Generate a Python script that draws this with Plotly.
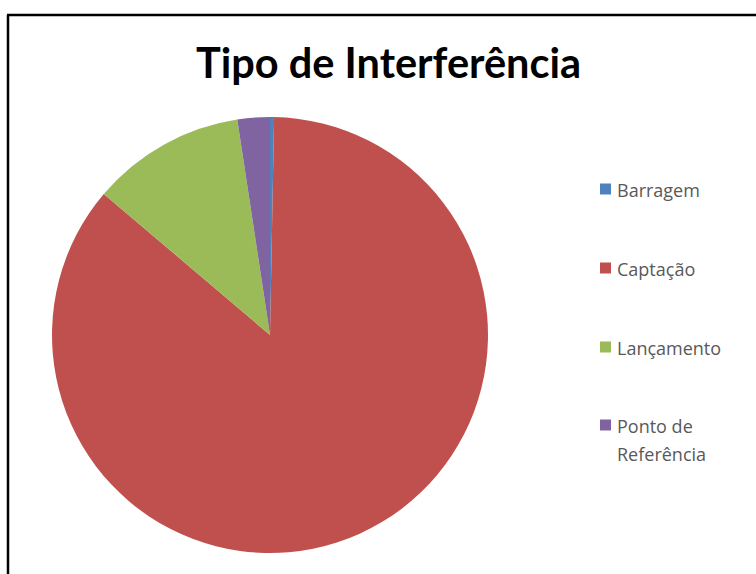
import plotly.graph_objects as go

W, H = 756, 574

title_text = "Tipo de Interferência"
labels = ["Barragem", "Captação", "Lançamento", "Ponto de Referência"]
legend_lines = [["Barragem"], ["Captação"], ["Lançamento"], ["Ponto de", "Referência"]]
values = [0.3, 85.9, 11.4, 2.4]
colors = ["#4F81BD", "#C0504D", "#9BBB59", "#8064A2"]

TITLE_FONT = "Lato"
LEG_FONT = "Open Sans"

def px_x(x):
    return x / W

def px_y(y):
    return 1 - y / H

fig = go.Figure(
    go.Pie(
        labels=labels,
        values=values,
        sort=False,
        direction="clockwise",
        rotation=0,
        textinfo="none",
        hoverinfo="label+percent",
        marker=dict(colors=colors, line=dict(width=0)),
        domain=dict(x=[px_x(52), px_x(488)], y=[px_y(553), px_y(117)]),
        showlegend=False,
    )
)

# legend drawn from the category / colour lists
legend_y = [189, 268, 347, 425]
line_gap = 28
shapes = []
annotations = []
for lines, col, yc in zip(legend_lines, colors, legend_y):
    shapes.append(dict(type="rect", xref="paper", yref="paper",
                       x0=px_x(600), x1=px_x(611), y0=px_y(yc + 5.5), y1=px_y(yc - 5.5),
                       fillcolor=col, line=dict(width=0)))
    for i, ln in enumerate(lines):
        annotations.append(dict(text=ln, xref="paper", yref="paper",
                                x=px_x(615), y=px_y(yc + 1 + i * line_gap),
                                xanchor="left", yanchor="middle",
                                showarrow=False, align="left",
                                font=dict(family=LEG_FONT, size=18, color="#595959")))

annotations.append(dict(text="<b>" + title_text + "</b>", xref="paper", yref="paper",
                        x=px_x(388), y=px_y(62), xanchor="center", yanchor="middle",
                        showarrow=False,
                        font=dict(family=TITLE_FONT, size=41.5, color="#000000")))

# chart frame
shapes.append(dict(type="line", xref="paper", yref="paper",
                   x0=px_x(7), x1=1.0, y0=px_y(15), y1=px_y(15),
                   line=dict(color="#000000", width=2.5)))
shapes.append(dict(type="line", xref="paper", yref="paper",
                   x0=px_x(8), x1=px_x(8), y0=px_y(15), y1=0.0,
                   line=dict(color="#000000", width=2.5)))

fig.update_layout(
    width=W, height=H,
    margin=dict(l=0, r=0, t=0, b=0),
    paper_bgcolor="white",
    plot_bgcolor="white",
    shapes=shapes,
    annotations=annotations,
)

fig.write_html("out.html", config={"displayModeBar": False},
               post_script="document.body.style.margin='0px';")
